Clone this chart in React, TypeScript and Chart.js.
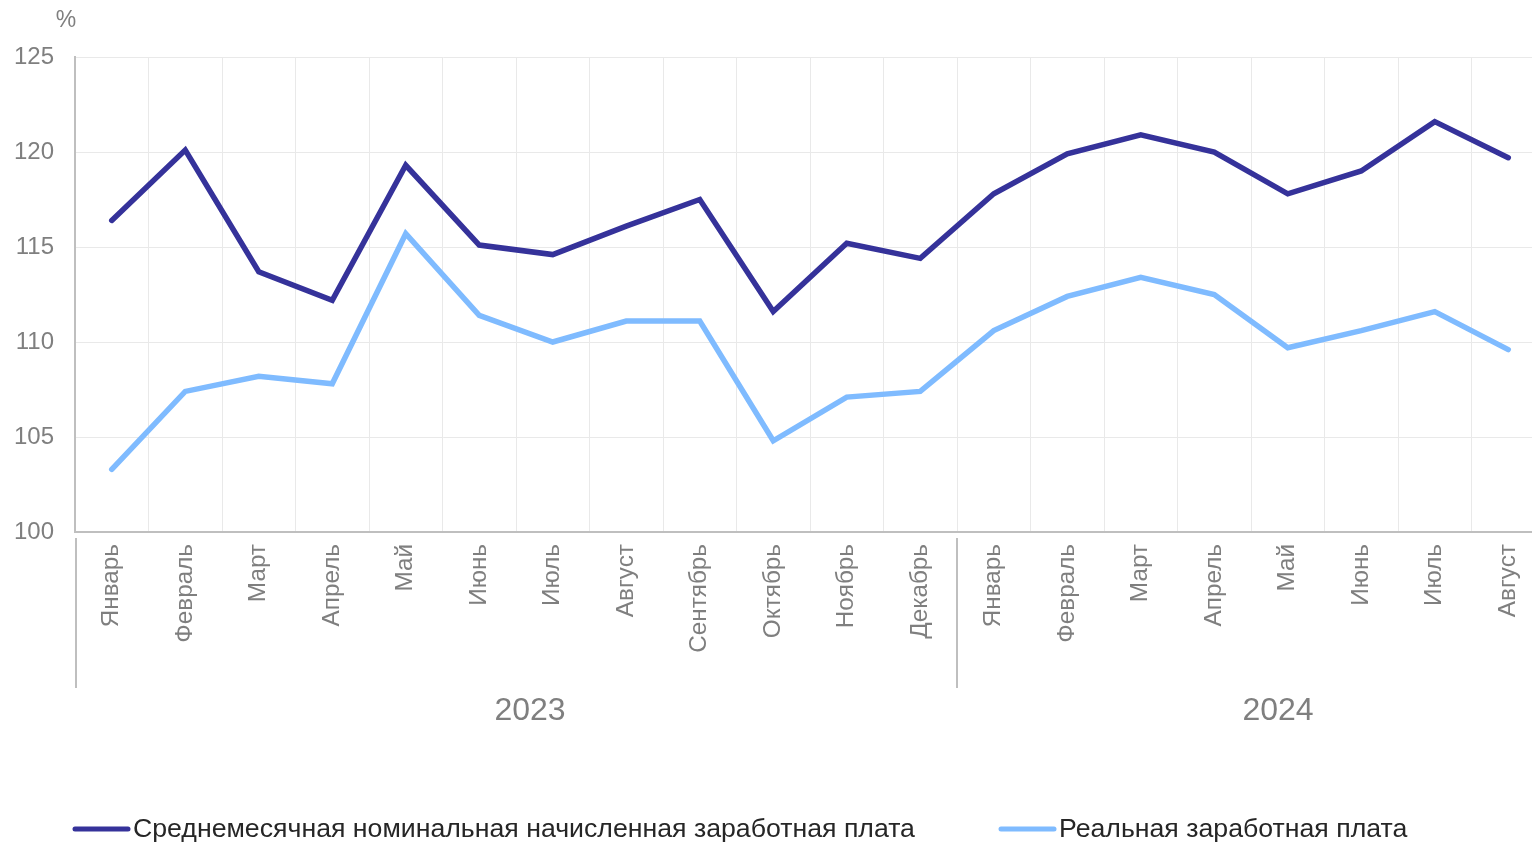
import React, { useEffect, useRef } from "react";
import { Chart, registerables } from "chart.js";

Chart.register(...registerables);

const months = [
  "Январь", "Февраль", "Март", "Апрель", "Май", "Июнь", "Июль", "Август",
  "Сентябрь", "Октябрь", "Ноябрь", "Декабрь",
  "Январь", "Февраль", "Март", "Апрель", "Май", "Июнь", "Июль", "Август",
];
const years = ["2023", "2024"];
const monthsPerYear = [12, 8];

const nominalLabel = "Среднемесячная номинальная начисленная заработная плата";
const realLabel = "Реальная заработная плата";

const nominalWage = [
  116.4, 120.1, 113.7, 112.2, 119.3, 115.1, 114.6, 116.1, 117.5, 111.6, 115.2, 114.4,
  117.8, 119.9, 120.9, 120.0, 117.8, 119.0, 121.6, 119.7,
];
const realWage = [
  103.3, 107.4, 108.2, 107.8, 115.7, 111.4, 110.0, 111.1, 111.1, 104.8, 107.1, 107.4,
  110.6, 112.4, 113.4, 112.5, 109.7, 110.6, 111.6, 109.6,
];

const yMin = 100;
const yMax = 125;
const yStep = 5;
const unitLabel = "%";

const FONT = "'Liberation Sans', Arial, sans-serif";
const GRAY = "#7f7f7f";
const AXIS = "#bfbfbf";
const GRID = "#e9e9e9";
const DARK = "#35329a";
const LIGHT = "#7fbbff";

const extrasPlugin = {
  id: "extras",
  afterDraw(chart: any) {
    const ctx = chart.ctx;
    const x = chart.scales.x;
    const y = chart.scales.y;
    ctx.save();

    // unit label
    ctx.fillStyle = GRAY;
    ctx.font = `23px ${FONT}`;
    ctx.textAlign = "center";
    ctx.textBaseline = "middle";
    ctx.fillText(unitLabel, 66, y.top - 36);

    // year groups
    const shifts = [14, 27];
    let start = 0;
    years.forEach((yr, i) => {
      const end = start + monthsPerYear[i] - 1;
      const leftB = (x.getPixelForValue(start - 1) + x.getPixelForValue(start)) / 2;
      const rightB = (x.getPixelForValue(end) + x.getPixelForValue(end + 1)) / 2;
      ctx.strokeStyle = AXIS;
      ctx.lineWidth = 2;
      ctx.beginPath();
      const lx = Math.round(leftB) + (i === 0 ? 1 : 0);
      ctx.moveTo(lx, x.top + 6);
      ctx.lineTo(lx, x.top + 156);
      ctx.stroke();
      ctx.fillStyle = GRAY;
      ctx.font = `32px ${FONT}`;
      ctx.textAlign = "center";
      ctx.textBaseline = "middle";
      ctx.fillText(yr, (leftB + rightB) / 2 + shifts[i], x.top + 179);
      start = end + 1;
    });

    // legend
    const items = chart.data.datasets.map((d: any) => ({ text: d.label, color: d.borderColor }));
    const lx = [75, 1001];
    const ly = 829;
    items.forEach((it: any, i: number) => {
      ctx.strokeStyle = it.color;
      ctx.lineWidth = 5;
      ctx.lineCap = "round";
      ctx.beginPath();
      ctx.moveTo(lx[i], ly);
      ctx.lineTo(lx[i] + 53, ly);
      ctx.stroke();
      ctx.fillStyle = "#262626";
      ctx.font = `26.7px ${FONT}`;
      ctx.textAlign = "left";
      ctx.textBaseline = "middle";
      ctx.fillText(it.text, lx[i] + 58, ly + 1);
    });
    ctx.restore();
  },
};

export default function App() {
  const ref = useRef<HTMLCanvasElement | null>(null);
  useEffect(() => {
    if (!ref.current) return;
    const chart = new Chart(ref.current, {
      type: "line",
      data: {
        labels: months,
        datasets: [
          {
            label: nominalLabel,
            data: nominalWage,
            borderColor: DARK,
            backgroundColor: DARK,
            borderWidth: 5.5,
            pointRadius: 0,
            tension: 0,
            borderCapStyle: "round",
            borderJoinStyle: "miter",
          },
          {
            label: realLabel,
            data: realWage,
            borderColor: LIGHT,
            backgroundColor: LIGHT,
            borderWidth: 5.5,
            pointRadius: 0,
            tension: 0,
            borderCapStyle: "round",
            borderJoinStyle: "miter",
          },
        ],
      },
      options: {
        animation: false,
        responsive: true,
        maintainAspectRatio: false,
        layout: { padding: { top: 57, right: 15, bottom: 0, left: 0 } },
        plugins: {
          legend: { display: false },
          tooltip: { enabled: false },
        },
        scales: {
          x: {
            offset: true,
            grid: { offset: true, color: GRID, lineWidth: 1, drawTicks: false },
            border: { display: true, color: AXIS, width: 2 },
            ticks: {
              autoSkip: false,
              minRotation: 90,
              maxRotation: 90,
              padding: 12,
              color: GRAY,
              font: { family: FONT, size: 24.3 },
            },
            afterFit: (s: any) => {
              s.height = 310;
            },
          },
          y: {
            min: yMin,
            max: yMax,
            grid: { color: GRID, lineWidth: 1, drawTicks: false },
            border: { display: true, color: AXIS, width: 2 },
            ticks: {
              stepSize: yStep,
              padding: 21,
              color: GRAY,
              font: { family: FONT, size: 24 },
            },
            afterFit: (s: any) => {
              s.width = 75;
            },
          },
        },
      },
      plugins: [extrasPlugin],
    });
    return () => chart.destroy();
  }, []);

  return (
    <div
      style={{
        position: "fixed",
        left: 0,
        top: 0,
        width: 1532,
        height: 842,
        overflow: "hidden",
        background: "#fff",
      }}
    >
      <div style={{ position: "relative", width: 1560, height: 842 }}>
        <canvas ref={ref} />
      </div>
    </div>
  );
}
